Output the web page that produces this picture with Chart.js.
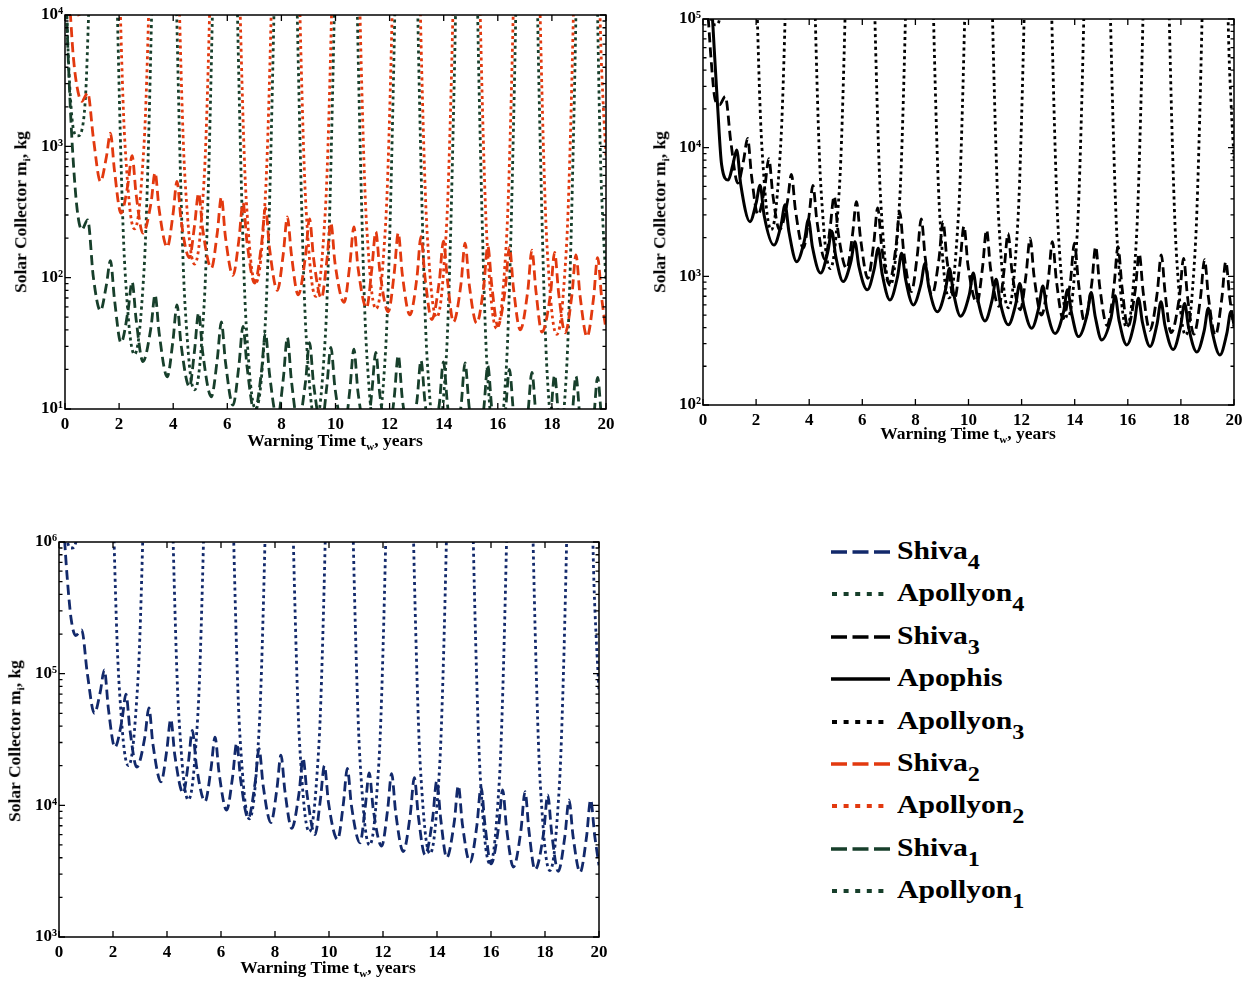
<!DOCTYPE html>
<html>
<head>
<meta charset="utf-8">
<script src="https://cdn.jsdelivr.net/npm/chart.js@4.4.1/dist/chart.umd.min.js"></script>
<style>
  html, body { margin:0; padding:0; background:#fff; }
  #wrap { position:relative; width:1255px; height:985px; overflow:hidden; background:#fff; }
  canvas { position:absolute; }
  .xt, .yt { position:absolute; font-family:'Liberation Serif','Times New Roman',serif; font-weight:bold; font-size:17.5px; line-height:1; white-space:nowrap; color:#000; }
  .xt { transform:translateX(-50%); }
  .yt { transform:translate(-50%,-50%) rotate(-90deg); }
  .xt sub, .yt sub { font-size:11px; vertical-align:-4px; line-height:0; }
  .lg { position:absolute; left:897px; font-family:'Liberation Serif','Times New Roman',serif; font-weight:bold; font-size:24.5px; line-height:1; white-space:nowrap; transform:scaleX(1.21); transform-origin:left center; color:#000; }
  .lg sub { font-size:20px; vertical-align:-10px; line-height:0; }
  svg.ls { position:absolute; left:829px; }
</style>
</head>
<body>
<div id="wrap">
  <canvas id="c1" width="620" height="460" style="left:0;top:0"></canvas>
  <canvas id="c2" width="615" height="460" style="left:640px;top:0"></canvas>
  <canvas id="c3" width="620" height="465" style="left:0;top:520px"></canvas>

  <div class="yt" style="left:21px;top:212px">Solar Collector m<sub>i</sub>, kg</div>
  <div class="xt" style="left:335px;top:432px">Warning Time t<sub>w</sub>, years</div>
  <div class="yt" style="left:660px;top:212px">Solar Collector m<sub>i</sub>, kg</div>
  <div class="xt" style="left:968px;top:425px">Warning Time t<sub>w</sub>, years</div>
  <div class="yt" style="left:15px;top:741px">Solar Collector m<sub>i</sub>, kg</div>
  <div class="xt" style="left:328px;top:959px">Warning Time t<sub>w</sub>, years</div>
  <div id="legend"></div>
</div>
<script>
// ---------------- DATA ----------------
const xTickVals   = [0, 2, 4, 6, 8, 10, 12, 14, 16, 18, 20];
const xTickLabels = ['0','2','4','6','8','10','12','14','16','18','20'];

const y1TickVals = [1e1, 1e2, 1e3, 1e4];
const y1TickLabels = ['10\u00B9','10\u00B2','10\u00B3','10\u2074'];
const y2TickVals = [1e2, 1e3, 1e4, 1e5];
const y2TickLabels = ['10\u00B2','10\u00B3','10\u2074','10\u2075'];
const y3TickVals = [1e3, 1e4, 1e5, 1e6];
const y3TickLabels = ['10\u00B3','10\u2074','10\u2075','10\u2076'];

// Shiva curves (all share the same time base), years
const shivaT = [0, 0.1, 0.2, 0.3, 0.45, 0.62, 0.84, 1.05,
  1.31, 1.53, 1.68, 1.83,
  2.07, 2.33, 2.48, 2.63,
  2.88, 3.18, 3.33, 3.48,
  3.78, 3.99, 4.14, 4.29,
  4.6, 4.79, 4.94, 5.09,
  5.41, 5.63, 5.78, 5.93,
  6.21, 6.43, 6.58, 6.73,
  7.01, 7.26, 7.41, 7.56,
  7.85, 8.07, 8.22, 8.37,
  8.62, 8.89, 9.04, 9.19,
  9.48, 9.68, 9.83, 9.98,
  10.32, 10.53, 10.68, 10.83,
  11.15, 11.34, 11.49, 11.64,
  11.95, 12.17, 12.32, 12.47,
  12.75, 13.01, 13.16, 13.31,
  13.56, 13.84, 13.99, 14.14,
  14.36, 14.64, 14.79, 14.94,
  15.22, 15.48, 15.63, 15.78,
  16.0, 16.28, 16.43, 16.58,
  16.83, 17.11, 17.26, 17.41,
  17.63, 17.95, 18.1, 18.25,
  18.49, 18.74, 18.89, 19.04,
  19.3, 19.54, 19.69, 19.84,
  20];

const shiva1 = [25000, 6000, 1900, 800, 330, 232, 275, 100,
  56, 88, 135, 68,
  32, 56, 93, 48,
  23, 42, 74, 38,
  17.6, 33, 62, 31,
  14.8, 28, 54, 27,
  12.4, 24, 46, 23,
  10.7, 21.5, 42.6, 21,
  9.4, 19, 38, 18.5,
  8.4, 17, 35, 16.5,
  7.8, 16, 32, 15.5,
  7.4, 15, 29.5, 14.5,
  6.8, 14, 28.6, 13.5,
  6.5, 13.2, 27, 12.8,
  6.1, 12.2, 25.6, 12,
  5.8, 11.5, 23.4, 11.2,
  5.4, 11, 22.8, 10.8,
  5.1, 10.5, 22.4, 10.4,
  5.0, 10, 21.3, 9.9,
  4.8, 9.6, 20, 9.4,
  4.5, 9.2, 19, 9,
  4.3, 8.7, 18.1, 8.6,
  4.2, 8.5, 17.8, 8.4,
  4.0, 8.2, 17.4, 8.2,
  4.5];

const shiva2 = [30000, 18000, 10000, 5000, 2800, 2200, 2550, 1150,
  540, 830, 1260, 650,
  310, 520, 850, 430,
  218, 370, 630, 330,
  171, 300, 540, 275,
  142, 250, 440, 235,
  118, 220, 410, 205,
  104, 195, 372, 185,
  91, 175, 340, 168,
  80, 152, 290, 150,
  74, 145, 280, 140,
  70, 135, 262, 130,
  65, 126, 243, 120,
  59, 115, 224, 112,
  55, 108, 219, 106,
  52, 100, 205, 100,
  48, 95, 190, 95,
  46, 90, 183, 90,
  45, 86, 174, 86,
  43, 84, 171, 83,
  40, 80, 162, 79,
  38.5, 76, 156, 76,
  38, 74, 149, 73,
  35.5, 70, 142, 70,
  40];

const shiva3 = [300000, 180000, 100000, 50000, 24000, 21500, 25000, 11000,
  5300, 8000, 11800, 6000,
  3000, 5000, 8200, 4300,
  2300, 3800, 6200, 3300,
  1660, 2900, 5100, 2700,
  1350, 2400, 4200, 2200,
  1150, 2100, 3800, 2000,
  965, 1800, 3400, 1700,
  880, 1650, 3150, 1550,
  760, 1450, 2800, 1400,
  715, 1380, 2660, 1330,
  675, 1280, 2450, 1220,
  620, 1180, 2290, 1150,
  585, 1120, 2160, 1080,
  550, 1040, 1980, 1000,
  500, 965, 1860, 930,
  470, 920, 1810, 900,
  450, 870, 1700, 840,
  415, 840, 1700, 830,
  405, 780, 1500, 750,
  380, 750, 1470, 730,
  365, 710, 1380, 690,
  355, 690, 1350, 680,
  348, 670, 1300, 680,
  400];

const shiva4 = [5e6, 2.6e6, 1.1e6, 5.5e5, 2.6e5, 1.95e5, 2.15e5, 1.0e5,
  5.0e4, 7.3e4, 1.07e5, 5.4e4,
  2.76e4, 4.4e4, 7.0e4, 3.7e4,
  1.95e4, 3.3e4, 5.5e4, 2.9e4,
  1.51e4, 2.6e4, 4.5e4, 2.4e4,
  1.24e4, 2.1e4, 3.7e4, 2.0e4,
  1.07e4, 1.9e4, 3.3e4, 1.75e4,
  9200, 1.65e4, 2.96e4, 1.55e4,
  8000, 1.47e4, 2.7e4, 1.42e4,
  7400, 1.33e4, 2.4e4, 1.27e4,
  6700, 1.24e4, 2.28e4, 1.2e4,
  6000, 1.1e4, 2.0e4, 1.05e4,
  5500, 1.02e4, 1.91e4, 1.0e4,
  5200, 9600, 1.76e4, 9300,
  4900, 9200, 1.74e4, 8800,
  4450, 8500, 1.62e4, 8200,
  4200, 8000, 1.53e4, 7800,
  4000, 7500, 1.41e4, 7200,
  3700, 7100, 1.38e4, 7000,
  3600, 6800, 1.31e4, 6600,
  3400, 6500, 1.27e4, 6300,
  3240, 6200, 1.2e4, 6100,
  3150, 5900, 1.1e4, 5800,
  3100, 5800, 1.1e4, 5900,
  3500];

// Apophis
const apophisT = [0, 0.15, 0.3, 0.42, 0.55, 0.7,
  0.95, 1.12, 1.27, 1.42,
  1.77, 2.0, 2.15, 2.3,
  2.67, 2.94, 3.09, 3.24,
  3.53, 3.82, 3.97, 4.12,
  4.43, 4.7, 4.85, 5.0,
  5.28, 5.57, 5.72, 5.87,
  6.19, 6.45, 6.6, 6.75,
  7.04, 7.33, 7.48, 7.63,
  7.92, 8.21, 8.36, 8.51,
  8.83, 9.13, 9.28, 9.43,
  9.7, 10.03, 10.18, 10.33,
  10.62, 10.89, 11.04, 11.19,
  11.5, 11.78, 11.93, 12.08,
  12.38, 12.65, 12.8, 12.95,
  13.26, 13.58, 13.73, 13.88,
  14.14, 14.47, 14.62, 14.77,
  15.02, 15.37, 15.52, 15.67,
  15.96, 16.25, 16.4, 16.55,
  16.84, 17.1, 17.25, 17.4,
  17.71, 17.99, 18.14, 18.29,
  18.6, 18.88, 19.03, 19.18,
  19.47, 19.73, 19.88, 20.0];
const apophis = [1e6, 4e5, 1.6e5, 6e4, 2.1e4, 7400,
  5600, 7300, 9600, 5200,
  2660, 3700, 5100, 3000,
  1750, 2500, 3600, 2200,
  1300, 1900, 2760, 1700,
  1060, 1550, 2240, 1430,
  910, 1300, 1860, 1200,
  785, 1140, 1650, 1040,
  655, 1000, 1510, 950,
  600, 870, 1260, 815,
  530, 780, 1150, 750,
  490, 720, 1060, 690,
  450, 655, 950, 630,
  420, 610, 880, 590,
  395, 575, 840, 550,
  360, 530, 785, 520,
  340, 505, 750, 490,
  320, 475, 705, 455,
  293, 440, 675, 440,
  285, 425, 635, 415,
  270, 410, 615, 400,
  258, 380, 565, 370,
  245, 360, 530, 420];

// Apollyon curves (shared time base; deep narrow valleys, off-scale between them)
const apollyonT = [
  0, 0.07, 0.17, 0.32, 0.47, 0.62, 0.77, 0.87, 0.97, 1.07, 1.17,
  1.52,
  1.87, 1.97, 2.07, 2.17, 2.27, 2.42, 2.57, 2.72, 2.87, 2.97, 3.07, 3.17, 3.27,
  3.68,
  4.09, 4.19, 4.29, 4.39, 4.49, 4.64, 4.79, 4.94, 5.09, 5.19, 5.29, 5.39, 5.49,
  5.92,
  6.35, 6.45, 6.55, 6.65, 6.75, 6.9, 7.05, 7.2, 7.35, 7.45, 7.55, 7.65, 7.75,
  8.16,
  8.57, 8.67, 8.77, 8.87, 8.97, 9.12, 9.27, 9.42, 9.57, 9.67, 9.77, 9.87, 9.97,
  10.38,
  10.8, 10.9, 11.0, 11.1, 11.2, 11.35, 11.5, 11.65, 11.8, 11.9, 12.0, 12.1, 12.2,
  12.62,
  13.04, 13.14, 13.24, 13.34, 13.44, 13.59, 13.74, 13.89, 14.04, 14.14, 14.24, 14.34, 14.44,
  14.85,
  15.26, 15.36, 15.46, 15.56, 15.66, 15.81, 15.96, 16.11, 16.26, 16.36, 16.46, 16.56, 16.66,
  17.07,
  17.48, 17.58, 17.68, 17.78, 17.88, 18.03, 18.18, 18.33, 18.48, 18.58, 18.68, 18.78, 18.88,
  19.3,
  19.7, 19.8, 19.9, 20.0];

const apollyon1 = [
  30000, 9600, 3000, 1320, 1200, 1320, 2640, 9600, 36000, 240000, 2400000,
  1e10,
  52000, 5200, 780, 182, 78, 34, 26, 34, 78, 182, 780, 5200, 52000,
  1e10,
  28000, 2800, 420, 98, 42, 18, 14, 18, 42, 98, 420, 2800, 28000,
  1e10,
  20000, 2000, 300, 70, 30, 13, 10, 13, 30, 70, 300, 2000, 20000,
  1e10,
  16000, 1600, 240, 56, 24, 10.4, 8, 10.4, 24, 56, 240, 1600, 16000,
  1e10,
  12800, 1280, 192, 45, 19, 8.3, 6.4, 8.3, 19, 45, 192, 1280, 12800,
  1e10,
  11000, 1100, 165, 38, 16.5, 7.2, 5.5, 7.2, 16.5, 38, 165, 1100, 11000,
  1e10,
  9200, 920, 138, 32, 13.8, 6, 4.6, 6, 13.8, 32, 138, 920, 9200,
  1e10,
  8200, 820, 123, 29, 12.3, 5.3, 4.1, 5.3, 12.3, 29, 123, 820, 8200,
  1e10,
  7600, 760, 228, 95];

const apollyon2 = [
  2.5e5, 8e4, 2.5e4, 1.1e4, 1e4, 1.1e4, 2.2e4, 8e4, 3e5, 2e6, 2e7,
  1e10,
  470000, 47000, 7050, 1645, 705, 306, 235, 306, 705, 1645, 7050, 47000, 470000,
  1e10,
  254000, 25400, 3810, 889, 381, 165, 127, 165, 381, 889, 3810, 25400, 254000,
  1e10,
  182000, 18200, 2730, 637, 273, 118, 91, 118, 273, 637, 2730, 18200, 182000,
  1e10,
  144000, 14400, 2160, 504, 216, 94, 72, 94, 216, 504, 2160, 14400, 144000,
  1e10,
  116000, 11600, 1740, 406, 174, 75, 58, 75, 174, 406, 1740, 11600, 116000,
  1e10,
  100000, 10000, 1500, 350, 150, 65, 50, 65, 150, 350, 1500, 10000, 100000,
  1e10,
  82000, 8200, 1230, 287, 123, 53, 41, 53, 123, 287, 1230, 8200, 82000,
  1e10,
  74000, 7400, 1110, 259, 111, 48, 37, 48, 111, 259, 1110, 7400, 74000,
  1e10,
  68000, 6800, 2040, 850];

const apollyon3 = [
  2.25e6, 7.2e5, 2.25e5, 9.9e4, 9e4, 9.9e4, 1.98e5, 7.2e5, 2.7e6, 1.8e7, 1.8e8,
  1e10,
  4.6e6, 4.6e5, 69000, 16100, 6900, 2990, 2300, 2990, 6900, 16100, 69000, 4.6e5, 4.6e6,
  1e10,
  2.3e6, 2.3e5, 34500, 8050, 3450, 1495, 1150, 1495, 3450, 8050, 34500, 2.3e5, 2.3e6,
  1e10,
  1.7e6, 1.7e5, 25500, 5950, 2550, 1105, 850, 1105, 2550, 5950, 25500, 1.7e5, 1.7e6,
  1e10,
  1.36e6, 1.36e5, 20400, 4760, 2040, 884, 680, 884, 2040, 4760, 20400, 1.36e5, 1.36e6,
  1e10,
  1.14e6, 1.14e5, 17100, 3990, 1710, 741, 570, 741, 1710, 3990, 17100, 1.14e5, 1.14e6,
  1e10,
  9.6e5, 9.6e4, 14400, 3360, 1440, 624, 480, 624, 1440, 3360, 14400, 9.6e4, 9.6e5,
  1e10,
  8e5, 8e4, 12000, 2800, 1200, 520, 400, 520, 1200, 2800, 12000, 8e4, 8e5,
  1e10,
  7e5, 7e4, 10500, 2450, 1050, 455, 350, 455, 1050, 2450, 10500, 7e4, 7e5,
  1e10,
  6.6e5, 6.6e4, 19800, 8250];

const apollyon4 = [
  2.25e7, 7.2e6, 2.25e6, 9.9e5, 9e5, 9.9e5, 1.98e6, 7.2e6, 2.7e7, 1.8e8, 1.8e9,
  1e10,
  4e7, 4e6, 6e5, 1.4e5, 6e4, 2.6e4, 2e4, 2.6e4, 6e4, 1.4e5, 6e5, 4e6, 4e7,
  1e10,
  2.2e7, 2.2e6, 3.3e5, 7.7e4, 3.3e4, 1.43e4, 1.1e4, 1.43e4, 3.3e4, 7.7e4, 3.3e5, 2.2e6, 2.2e7,
  1e10,
  1.58e7, 1.58e6, 2.37e5, 5.53e4, 2.37e4, 1.03e4, 7900, 1.03e4, 2.37e4, 5.53e4, 2.37e5, 1.58e6, 1.58e7,
  1e10,
  1.26e7, 1.26e6, 1.89e5, 4.41e4, 1.89e4, 8190, 6300, 8190, 1.89e4, 4.41e4, 1.89e5, 1.26e6, 1.26e7,
  1e10,
  1e7, 1e6, 1.5e5, 3.5e4, 1.5e4, 6500, 5000, 6500, 1.5e4, 3.5e4, 1.5e5, 1e6, 1e7,
  1e10,
  8.6e6, 8.6e5, 1.29e5, 3.01e4, 1.29e4, 5590, 4300, 5590, 1.29e4, 3.01e4, 1.29e5, 8.6e5, 8.6e6,
  1e10,
  7.2e6, 7.2e5, 1.08e5, 2.52e4, 1.08e4, 4680, 3600, 4680, 1.08e4, 2.52e4, 1.08e5, 7.2e5, 7.2e6,
  1e10,
  6.4e6, 6.4e5, 9.6e4, 2.24e4, 9600, 4160, 3200, 4160, 9600, 2.24e4, 9.6e4, 6.4e5, 6.4e6,
  1e10,
  6e6, 6e5, 1.8e5, 7.5e4];

// Legend
const legendNames  = ['Shiva','Apollyon','Shiva','Apophis','Apollyon','Shiva','Apollyon','Shiva','Apollyon'];
const legendSubs   = ['4','4','3','','3','2','2','1','1'];
const legendStyles = ['dash','dot','dash','solid','dot','dash','dot','dash','dot'];

// ---------------- STYLE ----------------
const NAVY = '#12296b', RED = '#e2390f', GREEN = '#173f2b', BLACK = '#000000';
const legendColors = [NAVY, GREEN, BLACK, BLACK, BLACK, RED, RED, GREEN, GREEN];
const DASH = [10, 5], DOT = [3, 3.4];
const TICK_FONT = { family: "'Liberation Serif', 'Times New Roman', serif", size: 17, weight: 'bold' };

function pts(T, V) { return T.map((t, i) => ({ x: t, y: V[i] })); }
function ds(T, V, color, dash, width) {
  return { data: pts(T, V), borderColor: color, borderWidth: width || 2.8, borderDash: dash || [],
    pointRadius: 0, fill: false, cubicInterpolationMode: 'monotone', borderCapStyle: 'butt' };
}

const framePlugin = {
  id: 'frame',
  afterDatasetsDraw(chart) {
    const { ctx, chartArea: a, scales: { x, y } } = chart;
    ctx.save();
    ctx.strokeStyle = '#000';
    ctx.lineWidth = 1.3;
    ctx.beginPath();
    x.ticks.forEach(t => {
      const px = x.getPixelForValue(t.value);
      ctx.moveTo(px, a.bottom); ctx.lineTo(px, a.bottom - 6);
      ctx.moveTo(px, a.top); ctx.lineTo(px, a.top + 6);
    });
    const lo = Math.round(Math.log10(y.min)), hi = Math.round(Math.log10(y.max));
    for (let e = lo; e <= hi; e++) {
      for (let k = 1; k < 10; k++) {
        const v = k * Math.pow(10, e);
        if (v > y.max * 1.0001) break;
        const py = y.getPixelForValue(v);
        const L = k === 1 ? 6 : 3.5;
        ctx.moveTo(a.left, py); ctx.lineTo(a.left + L, py);
        ctx.moveTo(a.right, py); ctx.lineTo(a.right - L, py);
      }
    }
    ctx.stroke();
    ctx.lineWidth = 1.5;
    ctx.strokeRect(a.left, a.top, a.right - a.left, a.bottom - a.top);
    ctx.restore();
  }
};

function makePanel(id, datasets, yMin, yMax, yVals, yLabels, L) {
  return new Chart(document.getElementById(id), {
    type: 'line',
    data: { datasets },
    plugins: [framePlugin],
    options: {
      responsive: false, animation: false, devicePixelRatio: 1,
      layout: { padding: { top: L.top, right: L.right, left: 0, bottom: 0 } },
      plugins: { legend: { display: false }, tooltip: { enabled: false } },
      scales: {
        x: {
          type: 'linear', min: 0, max: 20,
          afterBuildTicks: s => { s.ticks = xTickVals.map(v => ({ value: v })); },
          afterFit: s => { s.height = L.xh; },
          ticks: { callback: (v, i) => xTickLabels[i], font: TICK_FONT, color: '#000', padding: 5, maxRotation: 0, autoSkip: false },
          grid: { display: false, drawTicks: false }, border: { display: false }
        },
        y: {
          type: 'logarithmic', min: yMin, max: yMax,
          afterBuildTicks: s => { s.ticks = yVals.map(v => ({ value: v })); },
          afterFit: s => { s.width = L.yw; },
          ticks: { callback: (v, i) => yLabels[i], font: TICK_FONT, color: '#000', padding: 2, autoSkip: false },
          grid: { display: false, drawTicks: false }, border: { display: false }
        }
      }
    }
  });
}

makePanel('c1', [
  ds(shivaT, shiva2, RED, DASH),
  ds(apollyonT, apollyon2, RED, DOT),
  ds(shivaT, shiva1, GREEN, DASH),
  ds(apollyonT, apollyon1, GREEN, DOT)
], 10, 1e4, y1TickVals, y1TickLabels, { top: 15, right: 14, xh: 51, yw: 65 });

makePanel('c2', [
  ds(shivaT, shiva3, BLACK, DASH),
  ds(apophisT, apophis, BLACK, [], 3),
  ds(apollyonT, apollyon3, BLACK, DOT)
], 100, 1e5, y2TickVals, y2TickLabels, { top: 19, right: 21, xh: 55, yw: 63 });

makePanel('c3', [
  ds(shivaT, shiva4, NAVY, DASH),
  ds(apollyonT, apollyon4, NAVY, DOT)
], 1e3, 1e6, y3TickVals, y3TickLabels, { top: 22, right: 21, xh: 48, yw: 59 });

// ---------------- LEGEND ----------------
(function () {
  const box = document.getElementById('legend');
  let html = '';
  legendNames.forEach((name, i) => {
    const base = 559 + 42.4 * i;       // text baseline
    const ly = base - 7;               // sample line centre
    const c = legendColors[i];
    let line;
    if (legendStyles[i] === 'dash') line = `<line x1="2" y1="5" x2="61" y2="5" stroke="${c}" stroke-width="3.6" stroke-dasharray="16 5.5"/>`;
    else if (legendStyles[i] === 'dot') line = `<line x1="3" y1="5" x2="56" y2="5" stroke="${c}" stroke-width="4" stroke-dasharray="5 6.6"/>`;
    else line = `<line x1="2" y1="5" x2="61" y2="5" stroke="${c}" stroke-width="3.4"/>`;
    html += `<svg class="ls" width="64" height="10" style="top:${ly - 5}px">${line}</svg>`;
    const sub = legendSubs[i] ? `<sub>${legendSubs[i]}</sub>` : '';
    html += `<div class="lg" style="top:${base - 20}px">${name}${sub}</div>`;
  });
  box.innerHTML = html;
})();
</script>
</body>
</html>
